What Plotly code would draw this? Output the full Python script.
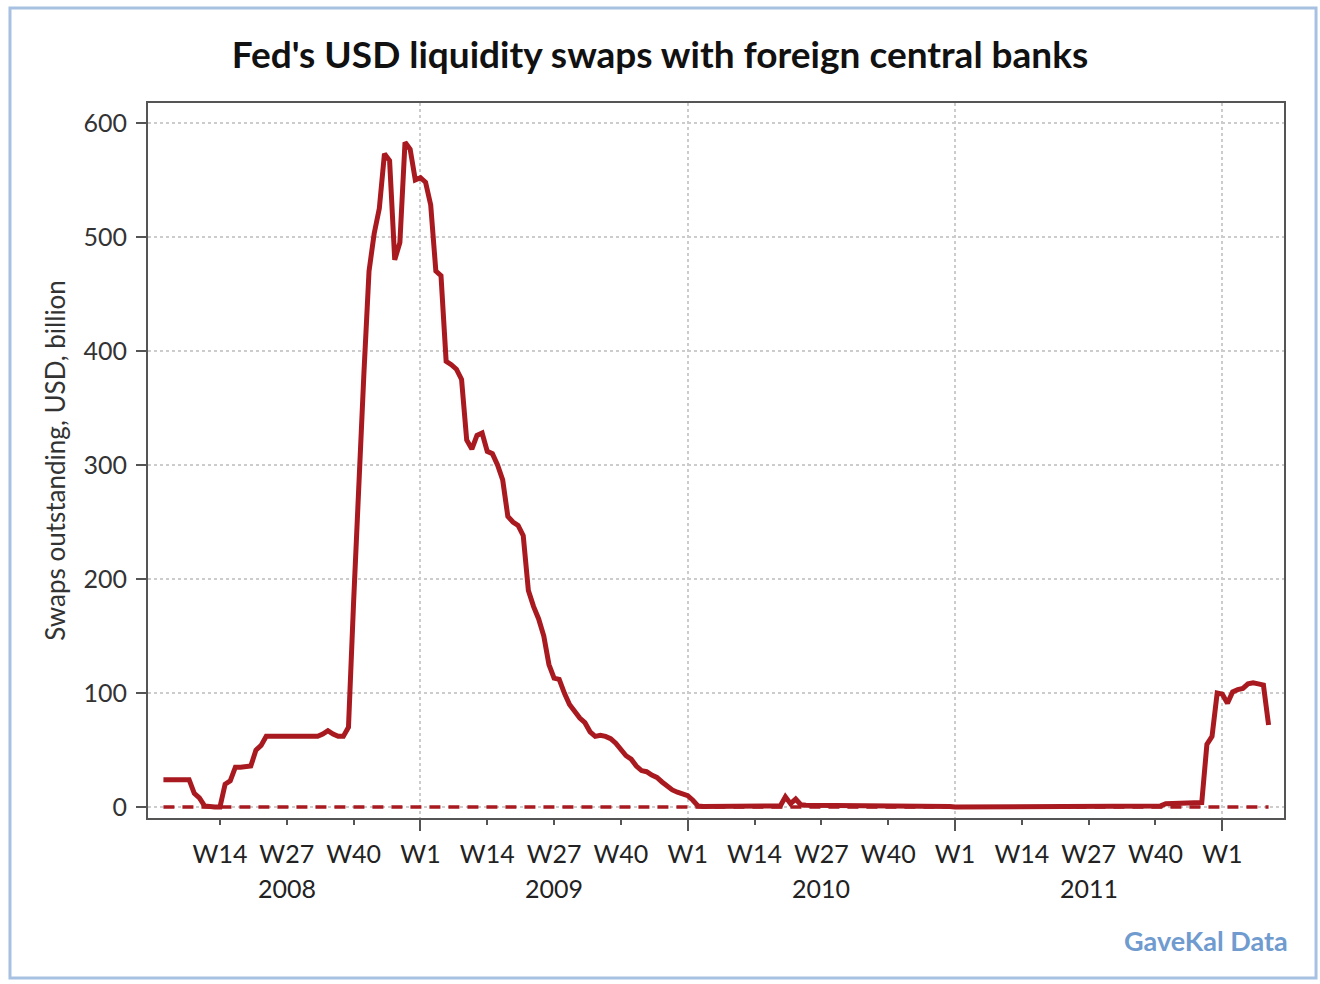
import plotly.graph_objects as go

# Week index: 0 = 2008 W1, 52 = 2009 W1, 104 = 2010 W1, 156 = 2011 W1, 208 = 2012 W1
first_week = 2

# Swaps outstanding (USD billion), weekly
swaps_2008 = [24, 24, 24, 24, 24, 24, 12, 8, 1, 0, 0, 0, 20, 23, 35, 35, 35, 36,
              50, 54, 62, 62, 62, 62, 62, 62, 62, 62, 62, 62, 62, 64, 67, 64, 62, 62,
              70, 180, 290, 380, 470, 503, 525, 573, 567, 480, 495, 583, 577, 550]
swaps_2009 = [552, 548, 528, 470, 466, 391, 388, 384, 375, 322, 314, 326, 328, 312,
              310, 300, 287, 255, 250, 247, 238, 190, 176, 165, 150, 125, 113, 112,
              100, 90, 84, 78, 74, 66, 62, 63, 62, 60, 56, 50, 45, 42, 36, 32, 31,
              28, 26, 22, 18, 15, 13, 12]
swaps_2010 = [10, 6, 1, 0.5, 0.5, 0.5, 0.5, 0.5, 0.5, 0.5, 0.5, 0.5, 0.5, 0.5, 0.5,
              0.5, 0.5, 0.5, 1, 9, 3, 7, 2, 1.5, 1.5, 1.5, 1.5, 1.5, 1.5, 1.5, 1.5,
              1.5, 0.5, 0.5, 0.5, 0.5, 0.5, 0.5, 0.5, 0.5, 0.5, 0.5, 0.5, 0.5, 0.5,
              0.5, 0.5, 0.5, 0.5, 0.5, 0.5, 0.5]
swaps_2011 = [0, 0, 0, 0, 0, 0, 0, 0, 0, 0, 0, 0, 0, 0, 0, 0, 0, 0, 0, 0, 0, 0, 0,
              0, 0, 0, 0, 0, 0, 0, 0, 0, 0, 0, 0, 1, 1, 1, 1, 1, 1, 3, 3, 3, 3, 3,
              3, 3, 4, 55, 62, 100]
swaps_2012 = [99, 91, 101, 103, 104, 108, 109, 108, 107, 72]

years = [2008, 2009, 2010, 2011]
year_weeks = ["W14", "W27", "W40"]
year_start = {2008: 0, 2009: 52, 2010: 104, 2011: 156, 2012: 208}
y_ticks = [0, 100, 200, 300, 400, 500, 600]

swaps = swaps_2008 + swaps_2009 + swaps_2010 + swaps_2011 + swaps_2012
weeks = list(range(first_week, first_week + len(swaps)))

tickvals, ticktext = [], []
for yr in years:
    s = year_start[yr]
    for k, lab in enumerate(year_weeks):
        tickvals.append(s + 13 * (k + 1))
        ticktext.append(lab)
    tickvals.append(year_start[yr + 1])
    ticktext.append("W1")
w1_vals = [year_start[y] for y in (2009, 2010, 2011, 2012)]

red = "#a81a1f"
fig = go.Figure()
fig.add_trace(go.Scatter(x=[weeks[0], weeks[-1]], y=[0, 0], mode="lines",
                         line=dict(color=red, width=3.5, dash="11px,8px"),
                         hoverinfo="skip", showlegend=False))
fig.add_trace(go.Scatter(x=weeks, y=swaps, mode="lines",
                         line=dict(color=red, width=5),
                         showlegend=False))

fig.update_layout(
    width=1320, height=984,
    paper_bgcolor="white", plot_bgcolor="white",
    margin=dict(l=148, r=36, t=103, b=166),
    font=dict(family="Lato", color="#333333"),
    title=dict(text="<b>Fed's USD liquidity swaps with foreign central banks</b>",
               x=0.5, xanchor="center", y=0.944, yanchor="middle",
               font=dict(size=37, color="#111111", family="Lato")),
    xaxis=dict(range=[-1, 220], tickmode="array", tickvals=tickvals, ticktext=ticktext,
               showgrid=False, zeroline=False,
               showline=True, linecolor="#555555", linewidth=2, mirror=True,
               ticks="outside", ticklen=5, tickwidth=1.5, tickcolor="#555555",
               ticklabelstandoff=8,
               tickfont=dict(size=25, color="#222222"),
               minor=dict(tickmode="array", tickvals=w1_vals, ticks="outside",
                          ticklen=11, tickwidth=1.5, tickcolor="#555555",
                          showgrid=True, gridcolor="#cccccc", griddash="dot", gridwidth=2)),
    yaxis=dict(range=[-9.6, 617.5], tickmode="array", tickvals=y_ticks,
               showgrid=True, gridcolor="#cccccc", griddash="dot", gridwidth=2,
               zeroline=False,
               showline=True, linecolor="#555555", linewidth=2, mirror=True,
               ticks="outside", ticklen=10, tickwidth=1.5, tickcolor="#555555",
               ticklabelstandoff=4,
               tickfont=dict(size=25, color="#333333"),
               title=dict(text="Swaps outstanding, USD, billion", standoff=10,
                          font=dict(size=26, color="#333333"))),
)

for yr in years:
    fig.add_annotation(text=str(yr), x=year_start[yr] + 26, xref="x",
                       y=-0.098, yref="paper", yanchor="middle", showarrow=False,
                       font=dict(size=25, color="#222222"))

fig.add_annotation(text="<b>GaveKal Data</b>", xref="paper", yref="paper",
                   x=1.005, y=-0.172, xanchor="right", yanchor="middle", showarrow=False,
                   font=dict(size=27, color="#6f9bcf", family="Lato"))

fig.add_shape(type="rect", xref="paper", yref="paper",
              x0=-0.1215, x1=1.0282, y0=-0.2238, y1=1.1329,
              line=dict(color="#a7c1e2", width=3), layer="below")

fig.write_html("out.html", config={"displayModeBar": False},
               post_script="document.body.style.margin='0';document.body.style.overflow='hidden';")
